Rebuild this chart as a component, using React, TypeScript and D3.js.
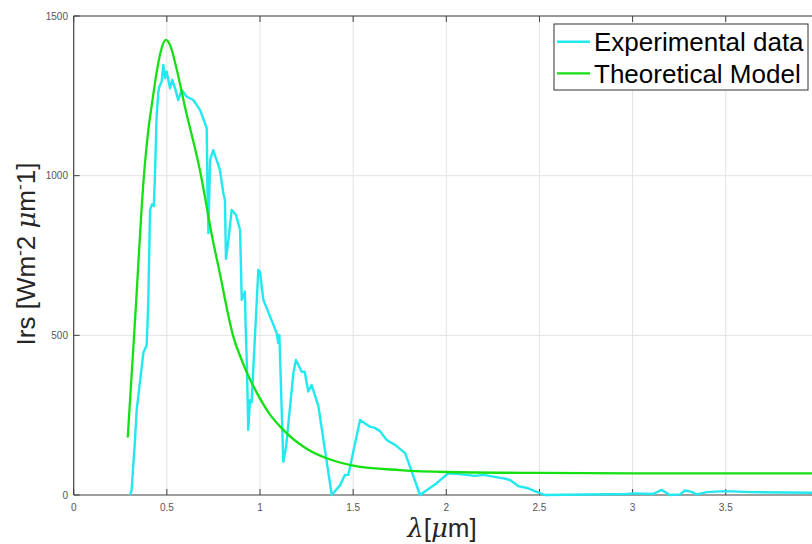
import React from "react";
import * as d3 from "d3";

// experimental spectrum
const expLambda = [
  0.302, 0.311, 0.329, 0.338, 0.374, 0.392, 0.4, 0.41, 0.42, 0.43, 0.436, 0.445, 0.454, 0.46,
  0.472, 0.481, 0.49, 0.499, 0.508, 0.517, 0.529, 0.544, 0.561, 0.58, 0.607, 0.642, 0.678,
  0.705, 0.714, 0.718, 0.723, 0.732, 0.749, 0.785, 0.803, 0.812, 0.817, 0.825, 0.848, 0.871,
  0.893, 0.902, 0.919, 0.923, 0.93, 0.937, 0.946, 0.955, 0.991, 1.0, 1.018, 1.09, 1.098, 1.104,
  1.125, 1.14, 1.179, 1.193, 1.224, 1.24, 1.259, 1.277, 1.313, 1.385, 1.43, 1.456, 1.474,
  1.537, 1.59, 1.617, 1.644, 1.68, 1.725, 1.779, 1.805, 1.859, 1.948, 2.011, 2.056, 2.154,
  2.199, 2.306, 2.342, 2.386, 2.44, 2.485, 2.53, 2.968, 3.004, 3.11, 3.156, 3.2, 3.255, 3.281,
  3.317, 3.344, 3.398, 3.496, 3.63, 3.809, 3.963, 4.0,
];
const expIrs = [
  0, 16, 172, 266, 445, 470, 600, 893, 910, 905, 997, 1185, 1260, 1279,
  1294, 1347, 1305, 1326, 1300, 1274, 1300, 1274, 1237, 1268, 1247, 1237, 1206,
  1164, 1148, 960, 820, 1049, 1080, 1018, 945, 924, 740, 770, 893, 877,
  830, 611, 637, 527, 400, 204, 297, 290, 705, 699, 611, 507, 476, 501,
  104, 151, 381, 423, 386, 386, 324, 344, 280, 0, 31, 63, 63,
  235, 214, 210, 200, 172, 157, 131, 89, 0, 37, 68, 66, 60,
  63, 52, 47, 28, 21, 10, 0, 3, 5, 3, 16, 0, 2, 14,
  10, 2, 9, 12, 9, 8, 7, 7,
];

// theoretical model curve
const modelLambda = [
  0.29, 0.33, 0.377, 0.4, 0.42, 0.45, 0.47, 0.494, 0.52, 0.55, 0.597, 0.68, 0.746, 0.786,
  0.82, 0.855, 0.9, 0.936, 0.974, 1.05, 1.125, 1.25, 1.358, 1.5, 1.75, 2.0, 2.5, 3.0, 4.0,
];
const modelIrs = [
  180, 555, 1000, 1140, 1225, 1340, 1395, 1425, 1405, 1340, 1216, 1010, 800, 690,
  590, 500, 425, 375, 330, 255, 204, 145, 115, 92, 78, 72, 69, 68, 68,
];

const xTicks = [0, 0.5, 1, 1.5, 2, 2.5, 3, 3.5, 4];
const xLabelTicks = [0, 0.5, 1, 1.5, 2, 2.5, 3, 3.5];
const yTicks = [0, 500, 1000, 1500];

const W = 812;
const H = 544;
const FONT = "'Liberation Sans', Arial, Helvetica, sans-serif";

export default function App() {
  const x = d3.scaleLinear().domain([0, 4]).range([73.7, 818.9]);
  const y = d3.scaleLinear().domain([0, 1500]).range([495, 16]);

  const expData = expLambda.map((l, i) => [l, expIrs[i]] as [number, number]);
  const modelData = modelLambda.map((l, i) => [l, modelIrs[i]] as [number, number]);

  const line = d3.line<[number, number]>().x((d) => x(d[0])).y((d) => y(d[1]));
  const smooth = d3
    .line<[number, number]>()
    .x((d) => x(d[0]))
    .y((d) => y(d[1]))
    .curve(d3.curveMonotoneX);

  const [x0, x1] = x.range();
  const [yb, yt] = y.range();
  const axisColor = "#404040";
  const gridColor = "#e3e3e3";
  const tickColor = "#555";
  const cyan = "#22e8f0";
  const green = "#14e014";

  return (
    <svg
      width={W}
      height={H}
      style={{ position: "absolute", left: 0, top: 0, background: "#fff" }}
      fontFamily={FONT}
    >
      {/* grid */}
      {xTicks.slice(1).map((t) => (
        <line key={"gx" + t} x1={x(t)} x2={x(t)} y1={yb} y2={yt} stroke={gridColor} strokeWidth={1} />
      ))}
      {yTicks.slice(1).map((t) => (
        <line key={"gy" + t} x1={x0} x2={x1} y1={y(t)} y2={y(t)} stroke={gridColor} strokeWidth={1} />
      ))}

      {/* axes box */}
      <line x1={x0} x2={x1} y1={yb} y2={yb} stroke={axisColor} strokeWidth={1.2} />
      <line x1={x0} x2={x1} y1={yt} y2={yt} stroke={axisColor} strokeWidth={1.2} />
      <line x1={x0} x2={x0} y1={yb} y2={yt} stroke={axisColor} strokeWidth={1.2} />

      {/* ticks */}
      {xTicks.map((t) => (
        <g key={"tx" + t}>
          <line x1={x(t)} x2={x(t)} y1={yb} y2={yb - 6} stroke={axisColor} />
          <line x1={x(t)} x2={x(t)} y1={yt} y2={yt + 6} stroke={axisColor} />
        </g>
      ))}
      {xLabelTicks.map((t) => (
        <text key={"lx" + t} x={x(t)} y={511} textAnchor="middle" fontSize={10} fill={tickColor}>
          {d3.format("~g")(t)}
        </text>
      ))}
      {yTicks.map((t) => (
        <g key={"ty" + t}>
          <line x1={x0} x2={x0 + 6} y1={y(t)} y2={y(t)} stroke={axisColor} />
          <text x={68} y={y(t) + 3.5} textAnchor="end" fontSize={10} fill={tickColor}>
            {t}
          </text>
        </g>
      ))}

      {/* data */}
      <path d={line(expData) ?? ""} fill="none" stroke={cyan} strokeWidth={2.4} strokeLinejoin="round" />
      <path d={smooth(modelData) ?? ""} fill="none" stroke={green} strokeWidth={2.3} />

      {/* axis labels */}
      <text x={442} y={537} textAnchor="middle" fontSize={26} fill="#262626">
        <tspan fontFamily="'DejaVu Serif', serif" fontStyle="italic">λ</tspan>
        <tspan>[</tspan>
        <tspan fontFamily="'DejaVu Serif', serif" fontStyle="italic">μ</tspan>
        <tspan>m]</tspan>
      </text>
      <text transform="translate(35,254) rotate(-90)" textAnchor="middle" fontSize={26} fill="#262626">
        <tspan>Irs [Wm</tspan>
        <tspan dy={-10} fontSize={17}>-</tspan>
        <tspan dy={10}>2 </tspan>
        <tspan fontFamily="'DejaVu Serif', serif" fontStyle="italic">μ</tspan>
        <tspan>m</tspan>
        <tspan dy={-10} fontSize={17}>-</tspan>
        <tspan dy={10}>1]</tspan>
      </text>

      {/* legend */}
      <rect x={554} y={24} width={254} height={66} fill="#fff" stroke="#333" strokeWidth={1} />
      <line x1={557} x2={590} y1={41.7} y2={41.7} stroke={cyan} strokeWidth={2.4} />
      <line x1={557} x2={590} y1={73.3} y2={73.3} stroke={green} strokeWidth={2.3} />
      <text x={594} y={50.5} fontSize={26} fill="#000">Experimental data</text>
      <text x={594} y={82.5} fontSize={26} fill="#000">Theoretical Model</text>
    </svg>
  );
}
